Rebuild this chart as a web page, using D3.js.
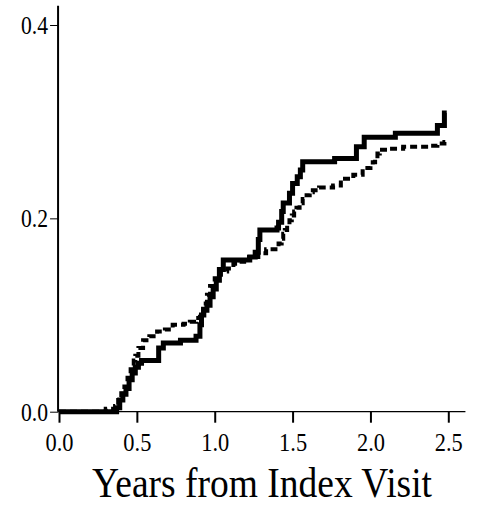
<!DOCTYPE html>
<html>
<head>
<meta charset="utf-8">
<script src="https://cdn.jsdelivr.net/npm/d3@7"></script>
<style>
  html, body { margin: 0; padding: 0; background: #fff; }
  svg { display: block; }
  text { font-family: "Liberation Serif", "Times New Roman", serif; fill: #000; }
</style>
</head>
<body>
<svg id="chart" width="495" height="507"></svg>
<script>
// ---- data ----
const xTicks = [0, 0.5, 1.0, 1.5, 2.0, 2.5];
const yTicks = [0, 0.2, 0.4];
const xTitle = "Years from Index Visit";

const solidT = [0, 0.37, 0.39, 0.41, 0.43, 0.45, 0.47, 0.49, 0.51, 0.53, 0.64, 0.67, 0.78, 0.88, 0.905, 0.915, 0.93, 0.95, 0.97, 0.99, 1.01, 1.03, 1.055, 1.225, 1.26, 1.28, 1.29, 1.40, 1.41, 1.43, 1.44, 1.48, 1.50, 1.53, 1.55, 1.565, 1.77, 1.91, 1.96, 2.16, 2.43, 2.475, 2.49];
const solidV = [0, 0.004, 0.012, 0.018, 0.024, 0.033, 0.040, 0.046, 0.050, 0.053, 0.066, 0.071, 0.074, 0.078, 0.090, 0.100, 0.105, 0.110, 0.119, 0.127, 0.136, 0.147, 0.157, 0.160, 0.165, 0.178, 0.188, 0.190, 0.196, 0.207, 0.216, 0.226, 0.236, 0.243, 0.250, 0.2585, 0.262, 0.274, 0.284, 0.288, 0.296, 0.309, 0.309];

const dashT = [0, 0.30, 0.36, 0.38, 0.40, 0.42, 0.44, 0.46, 0.48, 0.49, 0.51, 0.54, 0.58, 0.63, 0.68, 0.73, 0.80, 0.84, 0.88, 0.905, 0.925, 0.95, 0.97, 1.00, 1.04, 1.08, 1.12, 1.16, 1.22, 1.28, 1.33, 1.39, 1.41, 1.43, 1.44, 1.45, 1.465, 1.48, 1.495, 1.51, 1.525, 1.545, 1.565, 1.59, 1.61, 1.63, 1.67, 1.76, 1.81, 1.89, 1.95, 2.00, 2.015, 2.03, 2.045, 2.06, 2.12, 2.21, 2.38, 2.43, 2.475, 2.49];
const dashV = [0, 0.003, 0.006, 0.012, 0.019, 0.026, 0.035, 0.044, 0.053, 0.058, 0.066, 0.074, 0.078, 0.083, 0.085, 0.090, 0.091, 0.093, 0.097, 0.102, 0.112, 0.121, 0.130, 0.138, 0.145, 0.148, 0.153, 0.155, 0.160, 0.164, 0.168, 0.171, 0.174, 0.179, 0.184, 0.188, 0.193, 0.198, 0.203, 0.207, 0.211, 0.2155, 0.220, 0.224, 0.227, 0.229, 0.232, 0.234, 0.241, 0.245, 0.252, 0.255, 0.258, 0.262, 0.267, 0.271, 0.272, 0.274, 0.275, 0.2775, 0.279, 0.279];

// ---- scales ----
const svg = d3.select("#chart");
const x = d3.scaleLinear().domain([0, 2.5]).range([59, 448.3]);
const y = d3.scaleLinear().domain([0, 0.4]).range([411.7, 25]);

// ---- axes ----
const xAxis = svg.append("g")
  .attr("transform", `translate(0,${y(0)})`)
  .call(d3.axisBottom(x).tickValues(xTicks).tickFormat(d3.format(".1f")).tickSize(11).tickSizeOuter(0).tickPadding(10));
xAxis.select(".domain").remove();
xAxis.selectAll(".tick line").attr("stroke", "#000").attr("stroke-width", 2);
xAxis.selectAll(".tick text")
  .attr("font-size", 26)
  .attr("textLength", 28).attr("lengthAdjust", "spacingAndGlyphs")
  .attr("font-family", "Liberation Serif");

const yAxis = svg.append("g")
  .attr("transform", `translate(${x(-0.006)},0)`)
  .call(d3.axisLeft(y).tickValues(yTicks).tickFormat(d3.format(".1f")).tickSize(8).tickSizeOuter(0).tickPadding(2));
yAxis.select(".domain").remove();
yAxis.selectAll(".tick line").attr("stroke", "#000").attr("stroke-width", 1);
yAxis.selectAll(".tick text")
  .attr("font-size", 26)
  .attr("textLength", 27).attr("lengthAdjust", "spacingAndGlyphs")
  .attr("font-family", "Liberation Serif");

// axis lines
svg.append("line")
  .attr("x1", x(-0.006)).attr("x2", x(2.61))
  .attr("y1", y(0)).attr("y2", y(0))
  .attr("stroke", "#000").attr("stroke-width", 1.2);
svg.append("line")
  .attr("x1", x(-0.006)).attr("x2", x(-0.006))
  .attr("y1", y(0)).attr("y2", y(0.42))
  .attr("stroke", "#000").attr("stroke-width", 2);

// ---- lines ----
const line = d3.line().x(d => x(d[0])).y(d => y(d[1])).curve(d3.curveStepAfter);
const solidData = solidT.map((t, i) => [t, solidV[i]]);
const dashData = dashT.map((t, i) => [t, dashV[i]]);

svg.append("path")
  .datum(dashData)
  .attr("d", line)
  .attr("fill", "none")
  .attr("stroke", "#000")
  .attr("stroke-width", 4)
  .attr("stroke-dasharray", "7,4");

svg.append("path")
  .datum(solidData)
  .attr("d", line)
  .attr("fill", "none")
  .attr("stroke", "#000")
  .attr("stroke-width", 5)
  .attr("stroke-linejoin", "miter");

// ---- title ----
svg.append("text")
  .attr("x", 92).attr("y", 497)
  .attr("font-size", 42)
  .attr("textLength", 340).attr("lengthAdjust", "spacingAndGlyphs")
  .text(xTitle);
</script>
</body>
</html>
